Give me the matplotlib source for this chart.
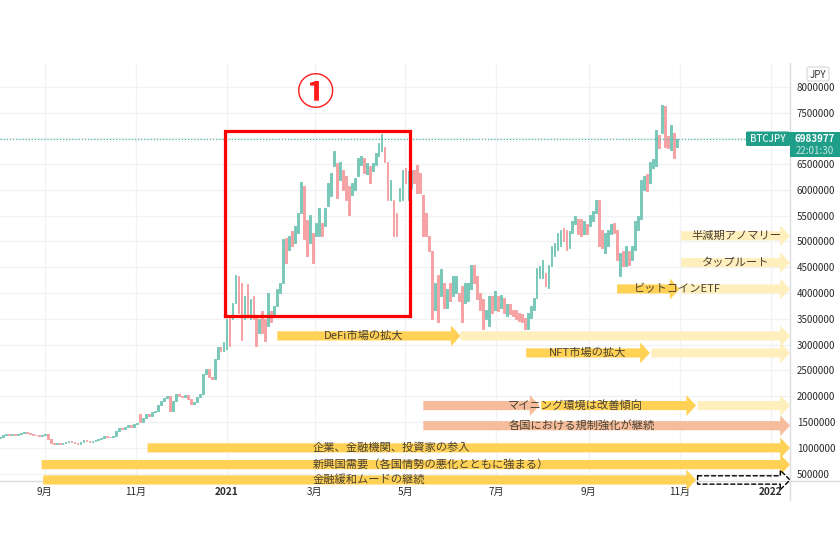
#!/usr/bin/env python3
"""BTC/JPY daily chart with market-theme arrows drawn over it."""
import pandas as pd
import matplotlib
matplotlib.use('Agg')
import matplotlib.pyplot as plt
from matplotlib.lines import Line2D
from matplotlib.patches import FancyArrowPatch, FancyBboxPatch, Rectangle

plt.rcParams['font.family'] = 'Noto Sans CJK JP'

# candles every 2 days, in units of 10,000 JPY
START_DATE = '2020-08-02'
opens = [
    120, 122, 124, 126, 124, 127, 124, 127, 128, 131,
    128, 126, 125, 124, 123, 125, 126, 117, 109, 107,
    109, 107, 110, 112, 114, 112, 110, 108, 112, 115,
    113, 112, 113, 115, 117, 120, 123, 122, 121, 123,
    133, 139, 136, 140, 144, 140, 146, 165, 150, 158,
    165, 162, 170, 172, 184, 191, 197, 200, 172, 190,
    205, 200, 198, 202, 194, 186, 189, 198, 205, 244,
    252, 238, 234, 272, 296, 288, 291, 355, 349, 381,
    433, 420, 349, 417, 349, 394, 355, 323, 365, 349,
    336, 365, 355, 375, 401, 420, 507, 484, 520, 497,
    517, 555, 607, 542, 497, 517, 510, 510, 536, 530,
    568, 588, 646, 652, 620, 639, 626, 607, 591, 600,
    626, 649, 662, 630, 646, 636, 649, 665, 675, 684,
    655, 581, 581, 555, 578, 581, 642, 581, 604, 639,
    649, 633, 590, 555, 510, 481, 368, 436, 394, 420,
    372, 420, 394, 400, 400, 414, 381, 384, 407, 455,
    433, 401, 388, 349, 336, 394, 368, 394, 372, 391,
    355, 378, 368, 368, 362, 359, 352, 330, 352, 368,
    391, 430, 430, 439, 410, 452, 472, 484, 491, 526,
    523, 488, 517, 533, 543, 543, 514, 533, 530, 539,
    555, 581, 523, 478, 491, 514, 536, 523, 433, 481,
    452, 481, 465, 484, 523, 543, 600, 630, 613, 643,
    646, 707, 710, 762, 704, 678, 710, 684,
]
closes = [
    122, 124, 126, 124, 127, 124, 127, 128, 131, 128,
    126, 125, 124, 123, 125, 127, 117, 109, 107, 109,
    107, 110, 112, 114, 112, 110, 108, 112, 115, 113,
    112, 113, 115, 117, 120, 123, 122, 121, 123, 133,
    139, 136, 140, 144, 140, 146, 148, 150, 158, 165,
    162, 170, 172, 184, 191, 197, 200, 172, 190, 205,
    200, 198, 202, 194, 186, 189, 198, 205, 244, 252,
    238, 234, 272, 296, 288, 306, 349, 297, 381, 436,
    362, 310, 394, 355, 388, 349, 297, 349, 323, 307,
    401, 343, 375, 407, 420, 504, 459, 510, 491, 530,
    555, 615, 504, 472, 552, 459, 536, 565, 510, 565,
    613, 633, 675, 584, 655, 600, 581, 552, 613, 623,
    662, 665, 633, 652, 613, 652, 671, 691, 709, 655,
    581, 620, 510, 510, 604, 639, 613, 636, 639, 613,
    594, 594, 510, 510, 481, 349, 420, 343, 446, 372,
    407, 384, 433, 433, 384, 343, 420, 420, 455, 420,
    388, 368, 330, 368, 394, 362, 404, 365, 397, 362,
    378, 359, 355, 349, 346, 343, 330, 362, 375, 391,
    449, 452, 465, 414, 455, 491, 497, 517, 523, 501,
    484, 520, 539, 549, 514, 510, 539, 514, 552, 559,
    581, 491, 488, 517, 523, 533, 517, 465, 478, 452,
    491, 455, 491, 539, 549, 620, 626, 597, 655, 659,
    717, 681, 765, 684, 681, 726, 662, 698,
]

LAST_PRICE = 6983977
LAST_TIME = '22:01:30'
SYMBOL = 'BTCJPY'
CURRENCY = 'JPY'

# 7000000 sits under the last-price tag, so it gets no label
y_ticks = [500000 * k for k in range(1, 17)]
y_tick_labels = ['' if v == 7000000 else str(v) for v in y_ticks]
x_tick_dates = ['2020-09-01', '2020-11-01', '2021-01-01', '2021-03-01', '2021-05-01',
                '2021-07-01', '2021-09-01', '2021-11-01', '2022-01-01']
x_tick_labels = ['9月', '11月', '2021', '3月', '5月', '7月', '9月', '11月', '2022']

# theme arrows
arrow_starts = ['2021-02-04', '2021-06-07', '2021-07-21', '2021-10-13', '2021-05-13',
                '2021-07-31', '2021-11-13', '2021-05-13', '2020-11-09', '2020-08-30',
                '2020-08-31', '2021-11-02', '2021-11-02', '2021-09-20', '2021-11-02']
arrow_ends = ['2021-06-07', '2022-01-14', '2021-10-12', '2022-01-14', '2021-07-30',
              '2021-11-12', '2022-01-14', '2022-01-14', '2022-01-14', '2022-01-14',
              '2021-11-12', '2022-01-14', '2022-01-14', '2021-11-01', '2022-01-14']
arrow_levels = [3170000, 3170000, 2840000, 2840000, 1820000,
                1820000, 1820000, 1430000, 1000000, 675000,
                378000, 5110000, 4590000, 4080000, 4080000]
arrow_kinds = ['strong', 'weak', 'strong', 'weak', 'risk',
               'strong', 'weak', 'risk', 'strong', 'strong',
               'strong', 'weak', 'weak', 'strong', 'weak']

label_texts = ['DeFi市場の拡大', 'NFT市場の拡大', 'マイニング環境は改善傾向', '各国における規制強化が継続',
               '企業、金融機関、投資家の参入', '新興国需要（各国情勢の悪化とともに強まる）',
               '金融緩和ムードの継続', '半減期アノマリー', 'タップルート', 'ビットコインETF']
label_dates = ['2021-03-07', '2021-08-05', '2021-07-09', '2021-07-09', '2021-02-28',
               '2021-02-28', '2021-02-28', '2021-11-09', '2021-11-16', '2021-10-01']
label_levels = [3170000, 2840000, 1820000, 1430000, 1000000, 675000, 378000, 5110000, 4590000, 4080000]

HIGHLIGHT_DATES = ['2020-12-31', '2021-05-04']
HIGHLIGHT_PRICES = [3556000, 7150000]

KIND_COLORS = {'strong': '#ffd155', 'weak': '#ffefbd', 'risk': '#f5bd9c'}
UP = '#79c9ba'
DOWN = '#f6a2a4'
TEAL = '#1f9e8a'
GRID = '#f1f2f5'
W, H = 840, 560


def d(s):
    return pd.Timestamp(s)


fig = plt.figure(figsize=(8.4, 5.6), dpi=100)
ax = fig.add_axes([0, 1 - 481 / H, 790 / W, (481 - 64) / H])
ax.patch.set_visible(False)
for s in ax.spines.values():
    s.set_visible(False)

x_candles = pd.date_range(START_DATE, periods=len(opens), freq='2D')
bodies = [(c - o) * 10000 for o, c in zip(opens, closes)]
bottoms = [o * 10000 for o in opens]
colors = [UP if c >= o else DOWN for o, c in zip(opens, closes)]
ax.bar(x_candles, bodies, bottom=bottoms, width=1.2, color=colors, edgecolor=colors, lw=0.7, zorder=2)

ax.set_xlim(d('2020-08-02'), d('2022-01-14'))
ax.set_ylim(358000, 8440000)
ax.axhline(LAST_PRICE, color='#4fb5a5', lw=0.9, ls=(0, (1, 1.5)), zorder=3)

ax.set_xticks([d(s) for s in x_tick_dates])
ax.set_xticklabels(x_tick_labels, fontsize=7.2, color='#2a2a2a')
for lab in ax.get_xticklabels():
    if lab.get_text().startswith('20'):
        lab.set_fontweight('bold')
ax.set_yticks(y_ticks)
ax.set_yticklabels(y_tick_labels, fontsize=7, color='#2a2a2a')
ax.yaxis.tick_right()
ax.tick_params(length=0)
ax.tick_params(axis='x', pad=4)
ax.tick_params(axis='y', pad=5)
ax.grid(True, color=GRID, lw=1)
ax.set_axisbelow(True)

for start, end, level, kind in zip(arrow_starts, arrow_ends, arrow_levels, arrow_kinds):
    ax.add_patch(FancyArrowPatch(
        (d(start), level), (d(end), level),
        arrowstyle='simple,head_length=7,head_width=15,tail_width=6.6', mutation_scale=1,
        shrinkA=0, shrinkB=0, lw=0, fc=KIND_COLORS[kind], zorder=4, clip_on=False))

# outlined continuation of the easing arrow
ax.add_patch(FancyArrowPatch(
    (d('2021-11-13'), 378000), (d('2022-01-14'), 378000),
    arrowstyle='simple,head_length=7,head_width=14,tail_width=6', mutation_scale=1,
    shrinkA=0, shrinkB=0, lw=1, ls=(0, (3, 2)), fc='none', ec='black', zorder=5, clip_on=False))

for text, date, level in zip(label_texts, label_dates, label_levels):
    ax.text(d(date), level, text, fontsize=8.1, color='#4a4030', ha='left', va='center', zorder=6)

x0, x1 = d(HIGHLIGHT_DATES[0]), d(HIGHLIGHT_DATES[1])
ax.plot([x0, x1, x1, x0, x0],
        [HIGHLIGHT_PRICES[0], HIGHLIGHT_PRICES[0], HIGHLIGHT_PRICES[1], HIGHLIGHT_PRICES[1], HIGHLIGHT_PRICES[0]],
        color='#ff0000', lw=2.3, zorder=7, solid_joinstyle='miter')
ax.text(d('2021-03-02'), 7860000, '①', color='#ff1a1a', fontsize=27, fontweight='bold',
        ha='center', va='center', zorder=7)

# price scale chrome
fig.add_artist(Line2D([790 / W, 790 / W], [1 - 63 / H, 1 - 500 / H], color='#dcdde0', lw=1, zorder=3))
fig.add_artist(Line2D([0, 1], [1 - 481 / H, 1 - 481 / H], color='#dcdde0', lw=1, zorder=-1))
fig.add_artist(FancyBboxPatch((746 / W, 1 - 146 / H), 44 / W, 14.5 / H, transform=fig.transFigure,
                              boxstyle='round,pad=0,rounding_size=0.002', fc=TEAL, ec='none', zorder=5))
fig.add_artist(Rectangle((790 / W, 1 - 157 / H), 50 / W, 25.5 / H, transform=fig.transFigure,
                         fc=TEAL, ec='none', zorder=5))
fig.text(767.5 / W, 1 - 139 / H, SYMBOL, color='#e8f5f2', fontsize=7, fontweight='medium',
         ha='center', va='center', zorder=6)
fig.text(815 / W, 1 - 138.5 / H, str(LAST_PRICE), color='white', fontsize=7, fontweight='bold',
         ha='center', va='center', zorder=6)
fig.text(815 / W, 1 - 150.5 / H, LAST_TIME, color='#c6e6e0', fontsize=7, ha='center', va='center', zorder=6)
fig.add_artist(FancyBboxPatch((807 / W, 1 - 81 / H), 22 / W, 14 / H, transform=fig.transFigure,
                              boxstyle='round,pad=0,rounding_size=0.004', fc='white', ec='#d4d6da', lw=0.8, zorder=5))
fig.text(818 / W, 1 - 74.5 / H, CURRENCY, color='#333333', fontsize=7, ha='center', va='center', zorder=6)

fig.savefig('out.png', dpi=100)
